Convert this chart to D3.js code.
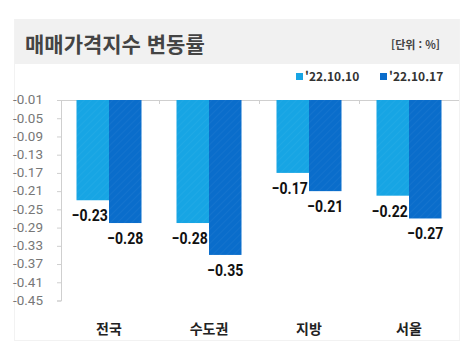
<!DOCTYPE html>
<html lang="ko">
<head>
  <meta charset="UTF-8">
  <title>매매가격지수 변동률</title>
  <script src="https://d3js.org/d3.v7.min.js"></script>
  <style>
    body { margin: 0; background: #fff; font-family: "Noto Sans CJK KR", "Noto Sans", sans-serif; }
  </style>
</head>
<body>
  <div id="chart"></div>
  <script>
    const categories = ["전국", "수도권", "지방", "서울"];
    const seriesNames = ["'22.10.10", "'22.10.17"];
    const week1 = [-0.23, -0.28, -0.17, -0.22];
    const week2 = [-0.28, -0.35, -0.21, -0.27];
    const yTicks = [-0.01, -0.05, -0.09, -0.13, -0.17, -0.21, -0.25, -0.29, -0.33, -0.37, -0.41, -0.45];
    const colors = ["#17a5e4", "#0a6dcb"];

    const W = 471, H = 351;
    const svg = d3.select("#chart").append("svg")
      .attr("width", W).attr("height", H);

    // hatch patterns
    const defs = svg.append("defs");
    colors.forEach((c, i) => {
      const p = defs.append("pattern")
        .attr("id", "hatch" + i)
        .attr("patternUnits", "userSpaceOnUse")
        .attr("width", 5).attr("height", 5)
        .attr("patternTransform", "rotate(45)");
      p.append("rect").attr("width", 5).attr("height", 5).attr("fill", c);
      p.append("line").attr("x1", 0).attr("y1", 0).attr("x2", 0).attr("y2", 5)
        .attr("stroke", "#ffffff").attr("stroke-opacity", 0.05).attr("stroke-width", 1.5);
    });

    // frame
    svg.append("rect").attr("x", 14.5).attr("y", 19.5).attr("width", 445).attr("height", 321)
      .attr("fill", "none").attr("stroke", "#f2f2f2");

    // title band
    svg.append("rect").attr("x", 15).attr("y", 19).attr("width", 444).attr("height", 45)
      .attr("fill", "#f1f1f1");
    svg.append("text").attr("x", 25).attr("y", 52)
      .attr("font-size", 21).attr("font-weight", "bold").attr("fill", "#444")
      .text("매매가격지수 변동률");
    svg.append("text").attr("x", 440).attr("y", 49).attr("text-anchor", "end")
      .attr("font-size", 11).attr("font-weight", "bold").attr("fill", "#444")
      .text("[단위 : %]");

    // legend
    const legendX = [296, 380];
    seriesNames.forEach((s, i) => {
      svg.append("rect").attr("x", legendX[i]).attr("y", 73).attr("width", 7).attr("height", 7)
        .attr("fill", colors[i]);
      svg.append("text").attr("x", legendX[i] + 9).attr("y", 81)
        .attr("font-size", 12).attr("font-weight", "bold").attr("fill", "#333")
        .text(s);
    });

    // scales
    const x0 = d3.scaleBand().domain(categories).range([59, 459])
      .paddingInner(0.35).paddingOuter(0.175);
    const x1 = d3.scaleBand().domain([0, 1]).range([0, x0.bandwidth()]);
    const y = d3.scaleLinear().domain([-0.01, -0.45]).range([100, 300.5]);

    // y axis
    const yAxis = svg.append("g").attr("transform", "translate(61,0)")
      .call(d3.axisLeft(y).tickValues(yTicks).tickSize(4).tickPadding(14)
        .tickFormat(d3.format(".2f")));
    yAxis.select(".domain").attr("stroke", "#cfcfcf");
    yAxis.selectAll(".tick line").attr("stroke", "#cfcfcf");
    yAxis.selectAll("text").attr("fill", "#777").attr("font-size", 12)
      .attr("font-family", "Roboto, sans-serif")
      .attr("textLength", 30).attr("lengthAdjust", "spacingAndGlyphs")
      .text(d => d3.format(".2f")(d).replace("−", "-"));

    // top axis line with category separators
    const topAxis = svg.append("g").attr("transform", "translate(0,100)")
      .call(d3.axisTop(d3.scaleLinear().domain([0, 4]).range([59, 459]))
        .tickValues([1, 2, 3]).tickSize(-4).tickFormat(""));
    topAxis.select(".domain").attr("stroke", "#cfcfcf").attr("d", "M61,0.5H459");
    topAxis.selectAll(".tick line").attr("stroke", "#cfcfcf");

    // bars
    const series = [week1, week2];
    series.forEach((vals, si) => {
      const g = svg.append("g");
      g.selectAll("rect").data(vals).enter().append("rect")
        .attr("x", (d, i) => x0(categories[i]) + x1(si))
        .attr("y", y(-0.01))
        .attr("width", x1.bandwidth())
        .attr("height", d => y(d) - y(-0.01))
        .attr("fill", "url(#hatch" + si + ")");
      g.selectAll("text").data(vals).enter().append("text")
        .attr("x", (d, i) => x0(categories[i]) + x1(si) + x1.bandwidth() / 2 - (si === 0 ? 21 : 18))
        .attr("y", d => y(d) + 21)
        .attr("font-size", 17).attr("font-weight", "bold").attr("fill", "#111")
        .attr("font-family", "Roboto, sans-serif")
        .attr("textLength", 36).attr("lengthAdjust", "spacingAndGlyphs")
        .text(d => "−" + d3.format(".2f")(-d));
    });

    // category labels
    svg.append("g").selectAll("text").data(categories).enter().append("text")
      .attr("x", d => x0(d) + x0.bandwidth() / 2)
      .attr("y", 334)
      .attr("text-anchor", "middle")
      .attr("font-size", 14).attr("font-weight", "bold").attr("fill", "#222")
      .text(d => d);
  </script>
</body>
</html>
